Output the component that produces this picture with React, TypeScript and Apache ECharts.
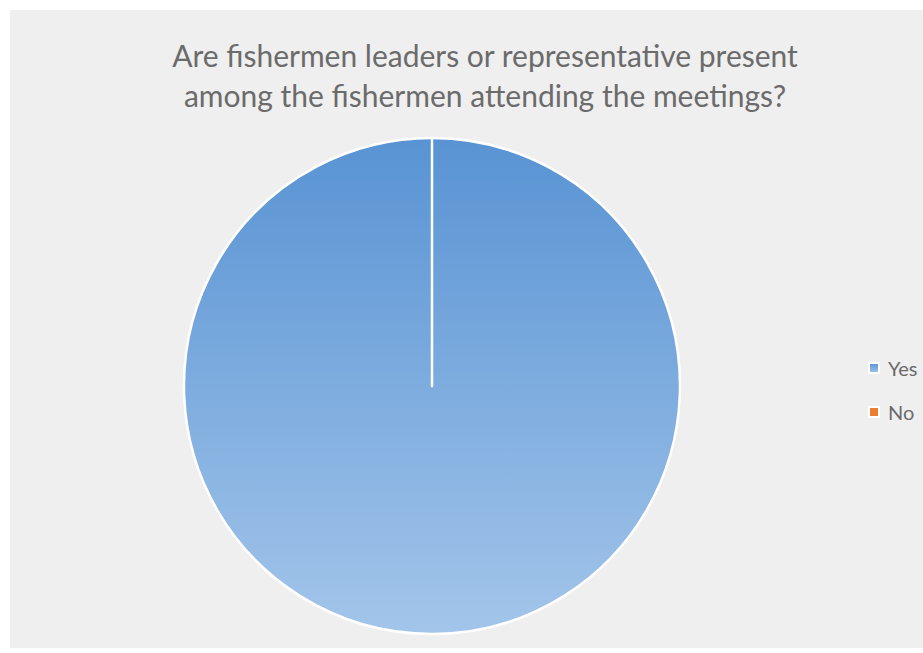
import React, { useEffect, useRef } from "react";
import * as echarts from "echarts";

const titleLines = [
  "Are fishermen leaders or representative present",
  "among the fishermen attending the meetings?",
];
const categories = ["Yes", "No"];
const values = [100, 0];
const colors = ["#5b9bd5", "#ed7d31"];

export default function App() {
  const ref = useRef<HTMLDivElement>(null);
  useEffect(() => {
    if (!ref.current) return;
    const chart = echarts.init(ref.current, undefined, { renderer: "svg" });
    chart.setOption({
      animation: false,
      backgroundColor: "#ffffff",
      graphic: [
        {
          type: "rect",
          z: -10,
          silent: true,
          shape: { x: 10, y: 10, width: 913, height: 638 },
          style: { fill: "#efefef" },
        },
      ],
      title: {
        text: titleLines.join("\n"),
        left: 480,
        top: 30,
        textAlign: "center",
        textStyle: {
          fontFamily: "Lato",
          fontSize: 30,
          lineHeight: 40,
          fontWeight: "normal",
          color: "#6b6b6b",
        },
      },
      legend: {
        orient: "vertical",
        left: 863,
        top: 353,
        icon: "rect",
        itemWidth: 10,
        itemHeight: 10,
        itemGap: 24,
        textStyle: {
          fontFamily: "Lato",
          fontSize: 20,
          color: "#6b6b6b",
          padding: [0, 0, 0, 4],
        },
        data: categories,
      },
      series: [
        {
          type: "pie",
          center: [432, 386],
          radius: 248,
          startAngle: 90,
          clockwise: true,
          label: { show: false },
          labelLine: { show: false },
          emphasis: { disabled: true },
          itemStyle: { borderColor: "#ffffff", borderWidth: 2.5 },
          data: categories.map((name, i) => ({
            name,
            value: values[i],
            itemStyle: {
              color:
                i === 0
                  ? new echarts.graphic.LinearGradient(0, 0, 0, 1, [
                      { offset: 0, color: "#5893d3" },
                      { offset: 1, color: "#a3c5ea" },
                    ])
                  : colors[i],
            },
          })),
        },
      ],
      color: colors,
    });
    return () => chart.dispose();
  }, []);
  return (
    <div style={{ position: "fixed", left: 0, top: 0, width: 923, height: 653, background: "#fff" }}>
      <div ref={ref} style={{ width: 923, height: 653 }} />
    </div>
  );
}
